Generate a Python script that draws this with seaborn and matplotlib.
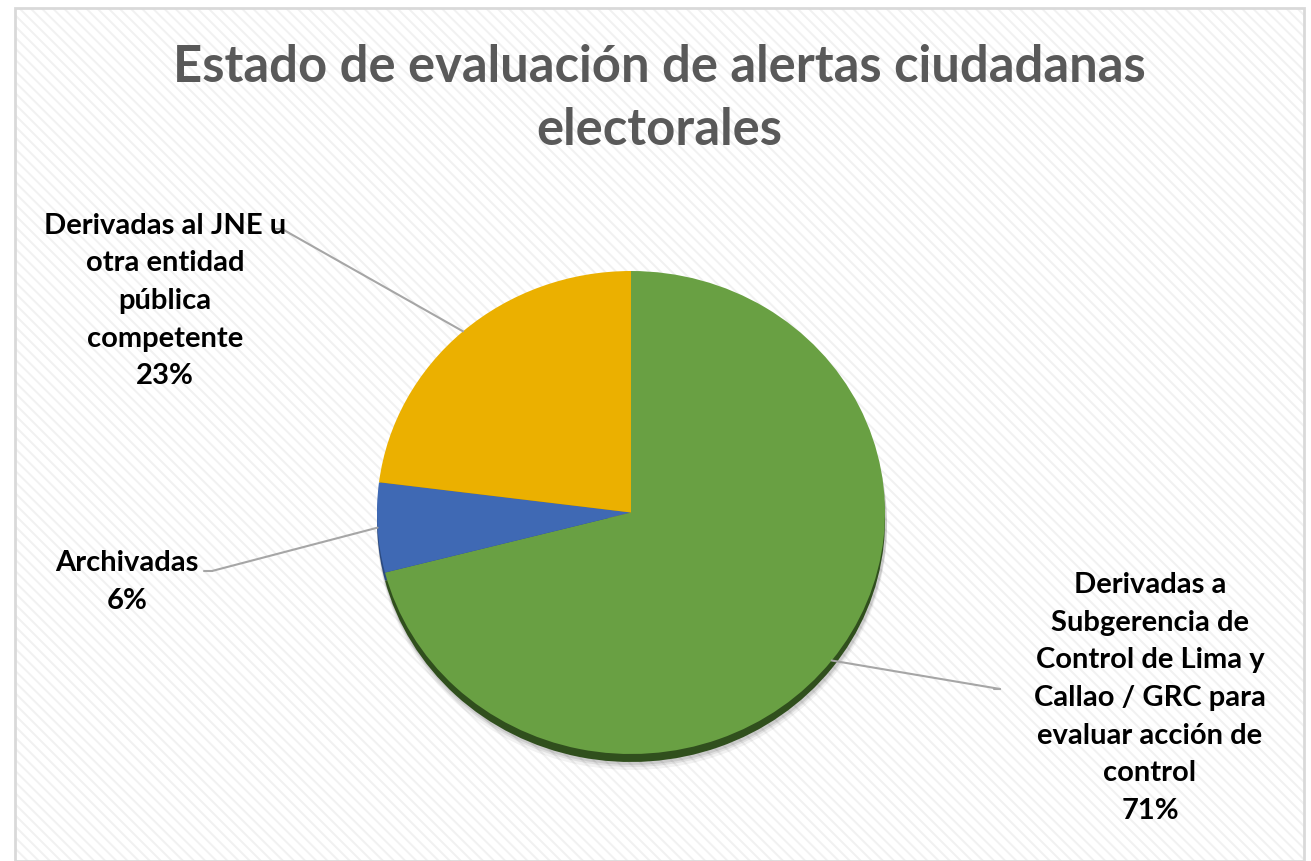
import numpy as np
import matplotlib
matplotlib.use("Agg")
import matplotlib.pyplot as plt
import seaborn as sns
from matplotlib.patches import Rectangle

sns.set_theme(style="white")
plt.rcParams['font.family'] = ['Lato', 'DejaVu Sans']
plt.rcParams['hatch.linewidth'] = 1.4

# ---- data ----
categories = [
    "Derivadas a\nSubgerencia de\nControl de Lima y\nCallao / GRC para\nevaluar acción de\ncontrol",
    "Archivadas",
    "Derivadas al JNE u\notra entidad\npública\ncompetente",
]
values = [71, 6, 23]
colors = ["#69A043", "#3F69B4", "#EBB000"]
shadow_colors = ["#304F1D", "#2B4A80", "#A07800"]
title = "Estado de evaluación de alertas ciudadanas\nelectorales"

W, H = 1311, 862
S = 241.5 / 254.0  # vertical squash of the pie (pixels per y unit)

def P(x, yimg):
    """image pixel position -> data coords"""
    return x, (H - yimg) / S

fig = plt.figure(figsize=(W / 100, H / 100), dpi=100)
fig.patch.set_facecolor("white")
# hatched background and border
fig.patches.append(Rectangle((15 / W, 0), (W - 22) / W, (H - 9) / H, transform=fig.transFigure,
                             facecolor="white", edgecolor="#F1F1F1", hatch="\\" * 3,
                             linewidth=0, zorder=-10))
fig.patches.append(Rectangle((15 / W, 0), (W - 22) / W, (H - 9) / H, transform=fig.transFigure,
                             facecolor="none", edgecolor="#D9D9D9",
                             linewidth=2, zorder=-9))

ax = fig.add_axes([0, 0, 1, 1])
ax.patch.set_alpha(0)

cx, cy = P(631, 513.5)
r = 254

# soft shadow
for k, a in zip([15, 12, 10], [0.05, 0.07, 0.09]):
    ax.pie(values, radius=r + 1, center=(cx + 1, cy - k / S), startangle=90, counterclock=False,
           colors=["#000000"] * 3, wedgeprops=dict(alpha=a, linewidth=0), frame=True)
# dark rim shadow
ax.pie(values, radius=r, center=(cx, cy - 8 / S), startangle=90, counterclock=False,
       colors=shadow_colors, wedgeprops=dict(linewidth=0), frame=True)
wedges, _ = ax.pie(values, radius=r, center=(cx, cy), startangle=90, counterclock=False,
                   colors=colors, wedgeprops=dict(linewidth=0), frame=True)
ax.set_aspect("auto")
ax.set_xlim(0, W)
ax.set_ylim(0, H / S)
ax.axis("off")

label_pos = [P(1150, 698), P(127, 582), P(165, 301)]
elbow = [P(1000, 690), P(212, 572), P(282, 230)]
for w, cat, v, (lx, ly), (ex, ey) in zip(wedges, categories, values, label_pos, elbow):
    ang = np.deg2rad((w.theta1 + w.theta2) / 2)
    px, py = cx + r * np.cos(ang), cy + r * np.sin(ang)
    ax.plot([px, ex], [py, ey], color="#A6A6A6", lw=1.5, zorder=5)
    if ex > cx:
        ax.plot([ex, ex - 6], [ey, ey], color="#A6A6A6", lw=1.5)
    else:
        ax.plot([ex, ex - 8], [ey, ey], color="#A6A6A6", lw=1.5)
    ax.text(lx, ly, f"{cat}\n{v}%", ha="center", va="center", fontsize=21, fontweight="bold",
            color="black", linespacing=1.55, zorder=6)

fig.text(0.503, 1 - 99 / H, title, ha="center", va="center", fontsize=36.5, fontweight="bold",
         color="#595959", linespacing=1.42)

fig.savefig("out.png", dpi=100, facecolor="white")
